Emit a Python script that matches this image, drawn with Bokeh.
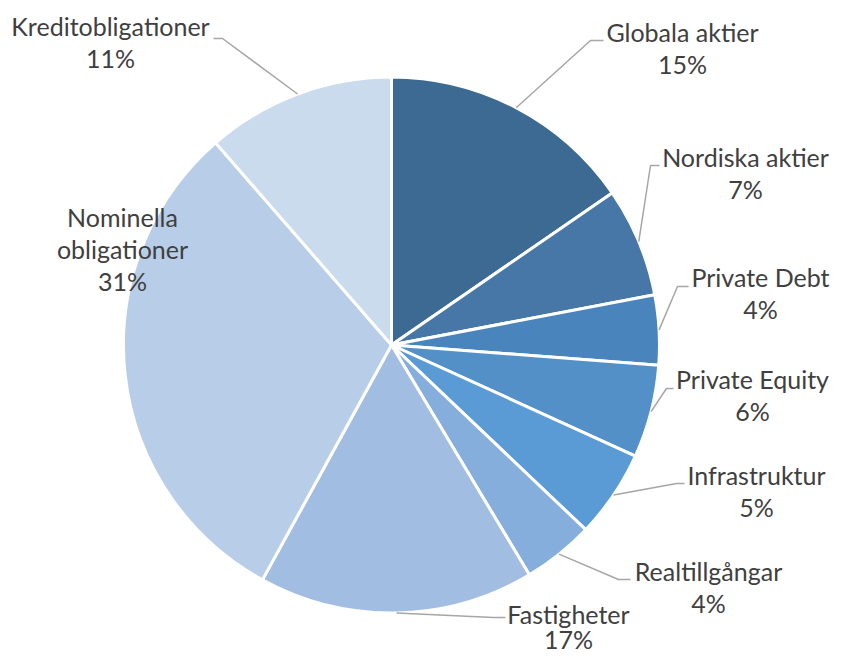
import math
from bokeh.plotting import figure
from bokeh.models import Range1d, ColumnDataSource
from bokeh.core.properties import value
from bokeh.embed import file_html
from bokeh.resources import INLINE

# ---- data ----
categories = ["Globala aktier", "Nordiska aktier", "Private Debt", "Private Equity",
              "Infrastruktur", "Realtillgångar", "Fastigheter", "Nominella obligationer",
              "Kreditobligationer"]
shares = [15.4, 6.6, 4.2, 5.6, 5.3, 4.3, 16.6, 30.6, 11.4]
colors = ["#3d6a92", "#4677a7", "#4a84bc", "#5390c8", "#5b9bd5",
          "#86aedc", "#a2bde2", "#b8cde8", "#cbdbee"]
name_lines = [["Globala aktier"], ["Nordiska aktier"], ["Private Debt"], ["Private Equity"],
              ["Infrastruktur"], ["Realtillgångar"], ["Fastigheter"], ["Nominella", "obligationer"],
              ["Kreditobligationer"]]

# ---- layout (pixel coordinates, y downwards) ----
W, H = 831, 652
CX, CY, R = 391, 344.5, 268
TEXT_SHIFT = 11  # renderer draws text baselines this much lower
label_pos = [(682, 42), (745, 167), (760, 287), (752, 389), (756, 485),
             (708, 581), (568, 624), (122, 227), (110, 36)]
elbow = [(590, 40, 603), (650, 165, 659), (677, 286, 688), (666, 388, 673),
         (676, 483, 684), (618, 579, 630), (493, 617, 505), None, (222, 38, 213)]
LINE_H = 32
PCT_H = [32, 32, 32, 32, 32, 32, 25, 32, 32]

def Y(py):
    return H - py

p = figure(width=W, height=H, x_range=Range1d(0, W), y_range=Range1d(0, H),
           output_backend="svg", toolbar_location=None, x_axis_location=None,
           y_axis_location=None, min_border=0, outline_line_color=None,
           background_fill_color="white", border_fill_color="white")
p.grid.visible = False

total = sum(shares)
starts, ends, mids = [], [], []
cum = 0.0
for v in shares:
    f0 = cum / total
    cum += v
    f1 = cum / total
    starts.append(math.pi / 2 - 2 * math.pi * f0)
    ends.append(math.pi / 2 - 2 * math.pi * f1)
    mids.append(2 * math.pi * (f0 + f1) / 2)

src = ColumnDataSource(dict(x=[CX] * len(shares), y=[Y(CY)] * len(shares),
                            start=starts, end=ends, color=colors))
p.wedge(x="x", y="y", radius=R, start_angle="start", end_angle="end", direction="clock",
        fill_color="color", line_color="white", line_width=3, source=src)

# leader lines
xs, ys = [], []
for m, e in zip(mids, elbow):
    if e is None:
        continue
    sx = CX + R * math.sin(m)
    sy = CY - R * math.cos(m)
    xs.append([sx, e[0], e[2]])
    ys.append([Y(sy), Y(e[1]), Y(e[1])])
p.multi_line(xs, ys, line_color="#a6a6a6", line_width=1.5)

# labels
tx, ty, tt = [], [], []
for names, v, (lx, ly), ph in zip(name_lines, shares, label_pos, PCT_H):
    yy = ly
    for t in names:
        tx.append(lx); ty.append(Y(yy - TEXT_SHIFT)); tt.append(t)
        yy += LINE_H
    tx.append(lx); ty.append(Y(yy - LINE_H + ph - TEXT_SHIFT)); tt.append(f"{round(v)}%")
p.text(tx, ty, text=tt, text_font=value("Lato"), text_font_size="25px",
       text_color="#404040", text_align="center", text_baseline="alphabetic")

open("out.html", "w").write(file_html(p, INLINE))
